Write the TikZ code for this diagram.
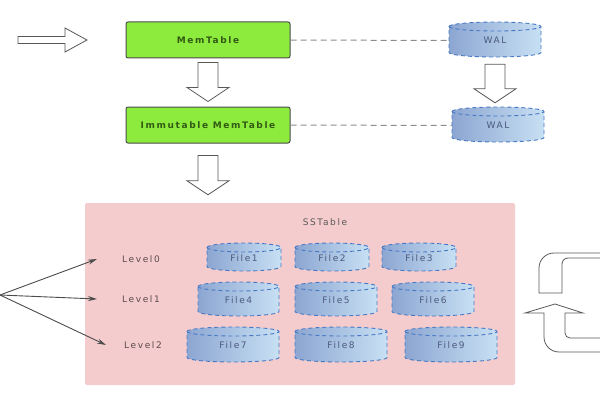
\documentclass[tikz,border=0pt]{standalone}
\usepackage{fontspec}
\setmainfont{DejaVu Sans}[LetterSpace=18]
\usetikzlibrary{calc,arrows.meta}

\definecolor{memgreen}{RGB}{140,235,60}
\definecolor{memtext}{RGB}{50,90,20}
\definecolor{sspink}{RGB}{245,204,206}
\definecolor{dbdark}{RGB}{140,166,210}
\definecolor{dblight}{RGB}{200,224,243}
\definecolor{dbline}{RGB}{70,120,195}
\definecolor{dbtext}{RGB}{75,90,125}
\definecolor{lvtext}{RGB}{90,75,75}

\tikzset{
  membox/.style={draw=black!70,line width=1pt,rounded corners=2pt,fill=memgreen,
    minimum width=164pt,minimum height=36pt,text=memtext,font=\fontsize{9}{10}\selectfont\bfseries},
  dbbody/.style={left color=dbdark,right color=dblight,draw=dbline,line width=0.9pt,dash pattern=on 4pt off 3pt},
  dbname/.style={text=dbtext,inner sep=0pt,font=\fontsize{9}{10}\selectfont},
  lvname/.style={text=lvtext,inner sep=0pt,font=\fontsize{9}{10}\selectfont},
  hollow/.style={draw=black!65,line width=0.8pt,fill=white},
  walline/.style={draw=black!45,line width=1pt,dash pattern=on 6pt off 4pt},
  lvarrow/.style={draw=black!70,line width=0.9pt,-{Stealth[length=9pt,width=5pt]}},
}

% cylinder: name, x, y, width, height, text
\newcommand\dbfile[6]{%
  \path[dbbody] (#2-#4/2,#3+#5/2-4.5) arc[start angle=180,end angle=0,x radius=#4/2,y radius=4.5]
    -- (#2+#4/2,#3-#5/2+4.5) arc[start angle=0,end angle=-180,x radius=#4/2,y radius=4.5] -- cycle;
  \draw[dbline,line width=0.9pt,dash pattern=on 4pt off 3pt] (#2-#4/2,#3+#5/2-4.5)
    arc[start angle=180,end angle=360,x radius=#4/2,y radius=4.5];
  \node[dbname,minimum width=#4pt,minimum height=#5pt] (#1) at (#2,#3-1) {#6};
}

% hollow arrow pointing down
\newcommand\hollowdown[2]{%
  \draw[hollow] let \p1=(#1),\p2=(#2) in
    (\x1-10pt,\y1) -- (\x1+10pt,\y1) -- (\x1+10pt,\y2+14pt) -- (\x1+21pt,\y2+14pt)
    -- (\x1,\y2) -- (\x1-21pt,\y2+14pt) -- (\x1-10pt,\y2+14pt) -- cycle;
}

\begin{document}
\begin{tikzpicture}[x=1pt,y=1pt]
  \useasboundingbox (0,0) rectangle (600,400);
  \fill[white] (0,0) rectangle (600,400);

  \draw[hollow] (18,356.5) -- (65,356.5) -- (65,348) -- (87,360) -- (65,372) -- (65,363.5) -- (18,363.5) -- cycle;

  \node[membox] (mem) at (208,360) {MemTable};
  \node[membox] (imm) at (208,275) {Immutable MemTable};
  \dbfile{wal1}{495}{360.5}{92}{35}{WAL}
  \dbfile{wal2}{498}{275.5}{92}{35}{WAL}
  \draw[walline] (mem.east) -- (wal1.west);
  \draw[walline] (imm.east) -- (wal2.west);

  \hollowdown{[yshift=-4pt]mem.south}{[yshift=5pt]imm.north}
  \hollowdown{[yshift=-6pt]wal1.south}{[yshift=5pt]wal2.north}

  \node[fill=sspink,rounded corners=2pt,inner sep=0pt,minimum width=430pt,minimum height=182pt] (sst) at (300,106) {};
  \hollowdown{[yshift=-12pt]imm.south}{[yshift=8pt]sst.north}
  \node[lvname,text=black!65] (sstitle) at (325,178) {SSTable};

  \node[lvname] (lv0) at (141,141) {Level0};
  \node[lvname] (lv1) at (141,101) {Level1};
  \node[lvname] (lv2) at (143,55) {Level2};

  \dbfile{f1}{244}{143}{74}{28}{File1}
  \dbfile{f2}{332}{143}{74}{28}{File2}
  \dbfile{f3}{419}{143}{74}{28}{File3}
  \dbfile{f4}{238.5}{101}{81}{34}{File4}
  \dbfile{f5}{336}{101}{82}{34}{File5}
  \dbfile{f6}{433}{101}{82}{34}{File6}
  \dbfile{f7}{233}{55.5}{92}{35}{File7}
  \dbfile{f8}{341}{55.5}{92}{35}{File8}
  \dbfile{f9}{451}{55.5}{92}{35}{File9}

  \coordinate (src) at (0,105);
  \draw[lvarrow] (src) -- ([xshift=-25pt]lv0.west);
  \draw[lvarrow] (src) -- ([xshift=-25pt]lv1.west);
  \draw[lvarrow] (src) -- ([xshift=-18pt]lv2.west);

  \draw[hollow,fill=none] (606,147) -- (554,147) arc[start angle=90,end angle=180,radius=15]
    -- (539,107) -- (562,107) -- (562,136) arc[start angle=180,end angle=90,radius=6] -- (606,142);
  \draw[hollow,fill=none] (606,48) -- (559,48) arc[start angle=270,end angle=180,radius=15]
    -- (544,87) -- (525,87) -- (555,96) -- (583,87) -- (565,87) -- (565,67)
    arc[start angle=180,end angle=270,radius=5] -- (606,62);
\end{tikzpicture}
\end{document}
